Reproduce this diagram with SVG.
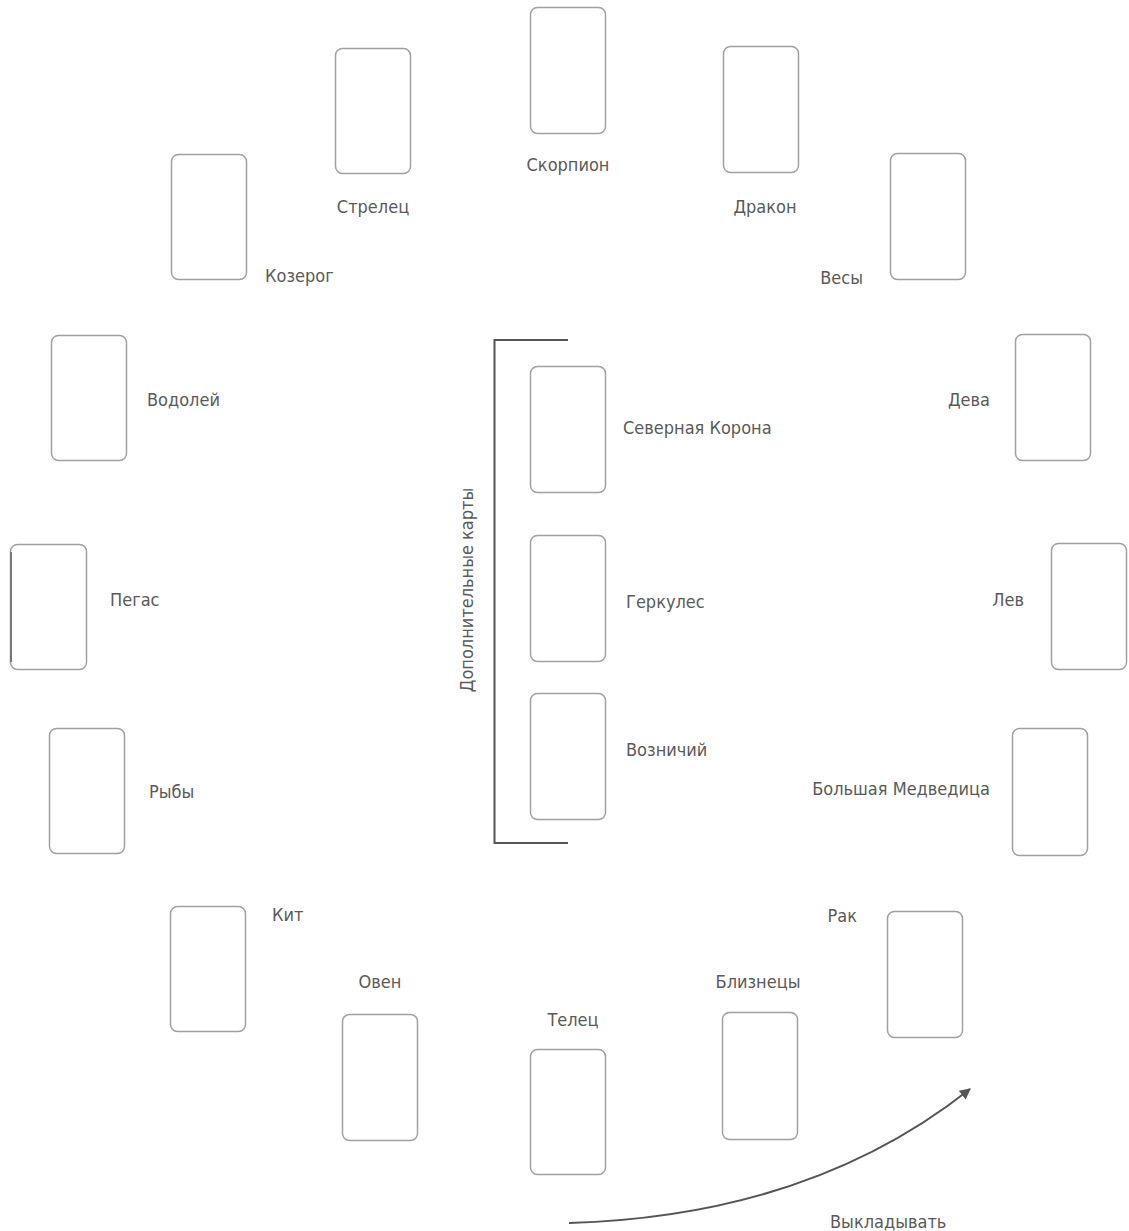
<svg xmlns="http://www.w3.org/2000/svg" width="1129" height="1231" viewBox="0 0 1129 1231">
<defs>
<style>
.card{fill:#fff;stroke:#a0a0a0;stroke-width:1.5}
.lbl{font-family:"Liberation Sans Narrow","DejaVu Sans Condensed","Roboto",sans-serif;font-size:18px;fill:#5a5a5a}
.br{fill:none;stroke:#555;stroke-width:2}
</style>
<marker id="ah" viewBox="0 0 10 10" refX="9" refY="5" markerWidth="13" markerHeight="11" orient="auto" markerUnits="userSpaceOnUse">
<path d="M0,0 L10,5 L0,10 z" fill="#555"/>
</marker>
</defs>
<rect width="1129" height="1231" fill="#fff"/>
<g id="nodes">
<g id="scorpion"><rect class="card" x="530.5" y="7.5" width="75" height="126" rx="7"/><text class="lbl" x="568" y="171" text-anchor="middle">Скорпион</text></g>
<g id="strelets"><rect class="card" x="335.5" y="48.5" width="75" height="125" rx="7"/><text class="lbl" x="373" y="213" text-anchor="middle">Стрелец</text></g>
<g id="drakon"><rect class="card" x="723.5" y="46.5" width="75" height="126" rx="7"/><text class="lbl" x="765" y="213" text-anchor="middle">Дракон</text></g>
<g id="kozerog"><rect class="card" x="171.5" y="154.5" width="75" height="125" rx="7"/><text class="lbl" x="265" y="282">Козерог</text></g>
<g id="vesy"><rect class="card" x="890.5" y="153.5" width="75" height="126" rx="7"/><text class="lbl" x="863" y="284" text-anchor="end">Весы</text></g>
<g id="vodoley"><rect class="card" x="51.5" y="335.5" width="75" height="125" rx="7"/><text class="lbl" x="147" y="406">Водолей</text></g>
<g id="deva"><rect class="card" x="1015.5" y="334.5" width="75" height="126" rx="7"/><text class="lbl" x="990" y="406" text-anchor="end">Дева</text></g>
<g id="pegas"><rect class="card" x="10.5" y="544.5" width="76" height="125" rx="7"/><line x1="11" y1="552" x2="11" y2="662" stroke="#777" stroke-width="2"/><text class="lbl" x="110" y="606">Пегас</text></g>
<g id="lev"><rect class="card" x="1051.5" y="543.5" width="75" height="126" rx="7"/><text class="lbl" x="1024" y="606" text-anchor="end">Лев</text></g>
<g id="ryby"><rect class="card" x="49.5" y="728.5" width="75" height="125" rx="7"/><text class="lbl" x="149" y="798">Рыбы</text></g>
<g id="medveditsa"><rect class="card" x="1012.5" y="728.5" width="75" height="127" rx="7"/><text class="lbl" x="990" y="795" text-anchor="end">Большая Медведица</text></g>
<g id="kit"><rect class="card" x="170.5" y="906.5" width="75" height="125" rx="7"/><text class="lbl" x="272" y="921">Кит</text></g>
<g id="rak"><rect class="card" x="887.5" y="911.5" width="75" height="126" rx="7"/><text class="lbl" x="857" y="922" text-anchor="end">Рак</text></g>
<g id="oven"><rect class="card" x="342.5" y="1014.5" width="75" height="126" rx="7"/><text class="lbl" x="380" y="988" text-anchor="middle">Овен</text></g>
<g id="bliznetsy"><rect class="card" x="722.5" y="1012.5" width="75" height="127" rx="7"/><text class="lbl" x="758" y="988" text-anchor="middle">Близнецы</text></g>
<g id="telets"><rect class="card" x="530.5" y="1049.5" width="75" height="125" rx="7"/><text class="lbl" x="573" y="1026" text-anchor="middle">Телец</text></g>
<g id="sev-korona"><rect class="card" x="530.5" y="366.5" width="75" height="126" rx="7"/><text class="lbl" x="623" y="434">Северная Корона</text></g>
<g id="gerkules"><rect class="card" x="530.5" y="535.5" width="75" height="126" rx="7"/><text class="lbl" x="626" y="608">Геркулес</text></g>
<g id="voznichiy"><rect class="card" x="530.5" y="693.5" width="75" height="126" rx="7"/><text class="lbl" x="626" y="756">Возничий</text></g>
<g id="extra"><path class="br" d="M568,340 H494.5 V843 H568"/><text class="lbl" transform="translate(473,590) rotate(-90)" text-anchor="middle">Дополнительные карты</text></g>
</g>
<g id="connectors">
<path d="M569,1223 Q 810,1216 970,1089" fill="none" stroke="#555" stroke-width="2" marker-end="url(#ah)"/>
<text class="lbl" x="830" y="1228">Выкладывать</text>
</g>
</svg>
